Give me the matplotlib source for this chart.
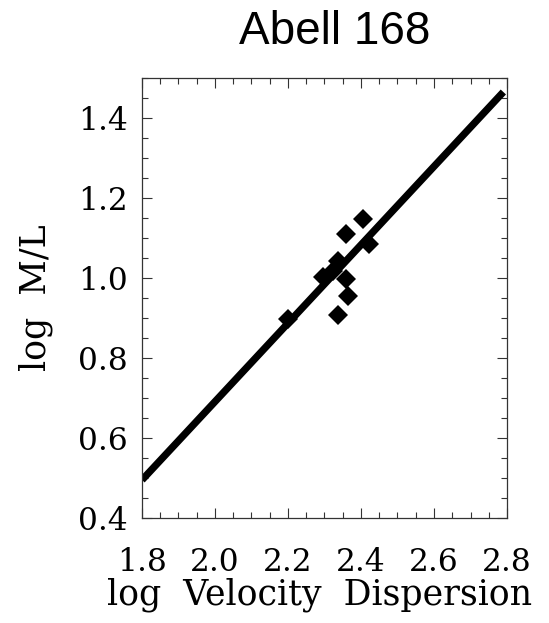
import matplotlib
matplotlib.use("Agg")
import matplotlib.pyplot as plt
from matplotlib.ticker import MultipleLocator

# Data
vel_disp = [2.199, 2.295, 2.322, 2.337, 2.360, 2.360, 2.405, 2.422, 2.364, 2.337]
log_ml = [0.897, 1.003, 1.018, 1.043, 0.997, 1.109, 1.147, 1.084, 0.955, 0.908]
fit_x = [1.80, 2.79]
fit_y = [0.495, 1.465]

xticks = [1.8, 2.0, 2.2, 2.4, 2.6, 2.8]
xticklabels = ["1.8", "2.0", "2.2", "2.4", "2.6", "2.8"]
yticks = [0.4, 0.6, 0.8, 1.0, 1.2, 1.4]
yticklabels = ["0.4", "0.6", "0.8", "1.0", "1.2", "1.4"]

W, H = 549, 623
fig = plt.figure(figsize=(W / 100, H / 100), dpi=100)
left, right, top, bottom = 142, 507, 78, 518
ax = fig.add_axes([left / W, 1 - bottom / H, (right - left) / W, (bottom - top) / H])

ax.plot(fit_x, fit_y, color="black", lw=5.2, solid_capstyle="butt")
ax.plot(vel_disp, log_ml, linestyle="none", marker="D", markersize=10.5,
        color="black", markeredgewidth=0)

ax.set_xlim(1.8, 2.8)
ax.set_ylim(0.4, 1.5)
ax.set_xticks(xticks)
ax.set_xticklabels(xticklabels)
ax.set_yticks(yticks)
ax.set_yticklabels(yticklabels)
ax.xaxis.set_minor_locator(MultipleLocator(0.05))
ax.yaxis.set_minor_locator(MultipleLocator(0.05))

serif = ["DejaVu Serif"]
ax.tick_params(which="both", direction="in", top=True, right=True, width=0.8, color="#333333")
ax.tick_params(which="major", length=7)
ax.tick_params(which="minor", length=4.5)
ax.tick_params(axis="x", which="major", pad=21, labelsize=22.5)
ax.tick_params(axis="y", which="major", pad=10, labelsize=22.5)
for lab in ax.get_xticklabels() + ax.get_yticklabels():
    lab.set_family(serif)

for s in ax.spines.values():
    s.set_linewidth(0.9)
    s.set_color("#333333")

ax.set_xlabel("log  Velocity  Dispersion", fontsize=25, family=serif)
ax.xaxis.label.set_va("baseline")
ax.xaxis.set_label_coords((320 - left) / (right - left), (bottom - 605) / (bottom - top))

ax.set_ylabel("log  M/L", fontsize=25, family=serif)
ax.yaxis.label.set_va("center")
ax.yaxis.set_label_coords((36 - left) / (right - left), 0.5)

fig.text(335 / W, 1 - 44 / H, "Abell 168", ha="center", va="baseline",
         fontsize=33, family=["Liberation Sans"])

fig.savefig("out.png", dpi=100)
